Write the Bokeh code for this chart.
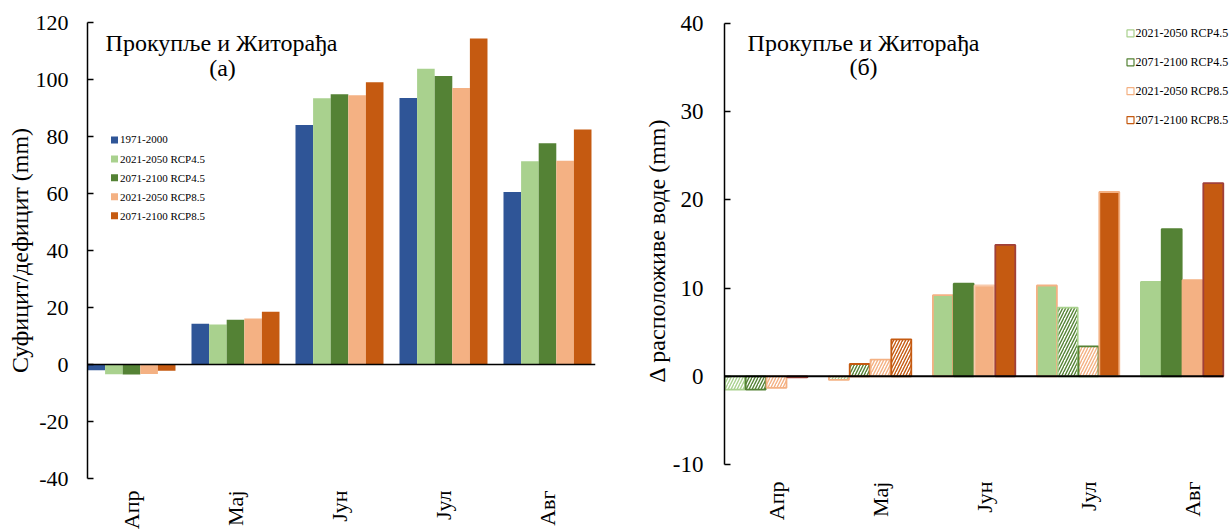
from math import pi
from bokeh.plotting import figure
from bokeh.models import Label, FixedTicker, Span, ColumnDataSource
from bokeh.layouts import row
from bokeh.embed import file_html
from bokeh.resources import INLINE
from bokeh.core.properties import value

# ---------------- data ----------------
months = ["Апр", "Мај", "Јун", "Јул", "Авг"]
series_a = ["1971-2000", "2021-2050 RCP4.5", "2071-2100 RCP4.5",
            "2021-2050 RCP8.5", "2071-2100 RCP8.5"]
base_1971_2000 = [-2.0, 14.3, 84.0, 93.5, 60.5]
rcp45_2021_2050 = [-3.4, 14.0, 93.4, 103.8, 71.3]
rcp45_2071_2100 = [-3.5, 15.7, 94.8, 101.2, 77.6]
rcp85_2021_2050 = [-3.3, 16.1, 94.5, 97.0, 71.5]
rcp85_2071_2100 = [-2.2, 18.5, 99.0, 114.4, 82.5]
values_a = [base_1971_2000, rcp45_2021_2050, rcp45_2071_2100,
            rcp85_2021_2050, rcp85_2071_2100]

series_b = series_a[1:]
d_rcp45_2021_2050 = [-1.5, -0.4, 9.2, 10.3, 10.7]
d_rcp45_2071_2100 = [-1.5, 1.4, 10.5, 7.8, 16.7]
d_rcp85_2021_2050 = [-1.3, 1.9, 10.3, 3.4, 10.9]
d_rcp85_2071_2100 = [-0.1, 4.2, 14.9, 20.9, 21.9]
values_b = [d_rcp45_2021_2050, d_rcp45_2071_2100, d_rcp85_2021_2050, d_rcp85_2071_2100]
# solid = significant change, hatched = not significant
sig_rcp45_2021_2050 = [False, False, True, True, True]
sig_rcp45_2071_2100 = [False, False, True, False, True]
sig_rcp85_2021_2050 = [False, False, True, False, True]
sig_rcp85_2071_2100 = [False, False, True, True, True]
sig_b = [sig_rcp45_2021_2050, sig_rcp45_2071_2100, sig_rcp85_2021_2050, sig_rcp85_2071_2100]

y_ticks_a = [-40, -20, 0, 20, 40, 60, 80, 100, 120]
y_ticks_b = [-10, 0, 10, 20, 30, 40]

# ---------------- styles ----------------
BLUE, LG, DG, PEACH, ORANGE = "#2F5597", "#A9D18E", "#548235", "#F4B183", "#C55A11"
DARKRED = "#A0403A"
colors_a = [BLUE, LG, DG, PEACH, ORANGE]
colors_b = [LG, DG, PEACH, ORANGE]
outline_b = [
    [LG, PEACH, PEACH, PEACH, LG],
    [DG, ORANGE, DG, LG, DG],
    [PEACH, PEACH, "#F8CBAD", DG, PEACH],
    [DARKRED, ORANGE, DARKRED, PEACH, DARKRED],
]
FONT = "Liberation Serif"

FIG_H = 532
FRAME_TOP, FRAME_BOTTOM = 22, 480   # shared frame (page pixels)


def style_xaxis(ax, standoff):
    ax.ticker = FixedTicker(ticks=list(range(len(months))))
    ax.major_label_overrides = {i: m for i, m in enumerate(months)}
    ax.major_label_orientation = pi / 2
    ax.major_label_standoff = standoff
    ax.major_label_text_font = FONT
    ax.major_label_text_font_size = "22px"
    ax.major_label_text_color = "black"
    ax.axis_line_color = None
    ax.major_tick_line_color = None
    ax.minor_tick_line_color = None
    ax.major_tick_in = 0
    ax.major_tick_out = 0
    ax.minor_tick_in = 0
    ax.minor_tick_out = 0


def style_yaxis(ax, ticks, label, tick_size, standoff, label_standoff):
    ax.ticker = FixedTicker(ticks=ticks)
    ax.major_label_overrides = {t: str(t) for t in ticks}   # plain hyphen minus
    ax.axis_label = label
    ax.axis_label_text_font = FONT
    ax.axis_label_text_font_size = "24px"
    ax.axis_label_text_font_style = "normal"
    ax.axis_label_standoff = label_standoff
    ax.axis_label_text_color = "black"
    ax.major_label_text_font = FONT
    ax.major_label_text_font_size = tick_size
    ax.major_label_standoff = standoff
    ax.major_label_text_color = "black"
    ax.major_tick_in = 6
    ax.major_tick_out = 0
    ax.minor_tick_in = 0
    ax.minor_tick_out = 0
    ax.axis_line_width = 1.5
    ax.major_tick_line_width = 1.5
    ax.axis_line_color = "black"
    ax.major_tick_line_color = "black"


# ---------------- chart (а) ----------------
fa_w = 620
a_left, a_right_px = 87, 595
a_x0 = -0.423
a_x1 = a_x0 + (a_right_px - a_left) / 104.0
pa = figure(width=fa_w, height=FIG_H, output_backend="svg", toolbar_location=None,
            x_range=(a_x0, a_x1), y_range=(-40, 120),
            min_border_left=a_left, min_border_top=FRAME_TOP,
            min_border_right=fa_w - a_right_px,
            min_border_bottom=FIG_H - FRAME_BOTTOM)
pa.outline_line_color = None
pa.grid.visible = False
pa.background_fill_color = "white"


def a_px_x(px):
    return a_x0 + (px - a_left) / 104.0


def a_px_y(py):
    return 120 - (py - FRAME_TOP) * 160.0 / (FRAME_BOTTOM - FRAME_TOP)


wa = 17.6 / 104.0
for j, (name, vals) in enumerate(zip(series_a, values_a)):
    src = ColumnDataSource(dict(x=[i + (j - 2) * wa for i in range(len(months))],
                                top=vals))
    pa.vbar(x="x", top="top", bottom=0, width=wa, source=src,
            fill_color=colors_a[j], line_color=None)

pa.add_layout(Span(location=0, dimension="width", line_color="black", line_width=1.5))

style_yaxis(pa.yaxis[0], y_ticks_a, "Суфицит/дефицит (mm)", "22px", 19, 0)
style_xaxis(pa.xaxis[0], 12)

pa.add_layout(Label(x=a_px_x(221), y=a_px_y(43), text="Прокупље и Житорађа",
                    text_align="center", text_baseline="alphabetic",
                    text_font=FONT, text_font_size="24px", text_color="black"))
pa.add_layout(Label(x=a_px_x(222), y=a_px_y(68), text="(а)",
                    text_align="center", text_baseline="alphabetic",
                    text_font=FONT, text_font_size="24px", text_color="black"))

# legend (а)
leg_y = [a_px_y(140 + 19 * k) for k in range(len(series_a))]
pa.scatter(x=[a_px_x(114)] * len(series_a), y=leg_y, marker="square", size=7,
           fill_color=colors_a, line_color=None)
pa.text(x=[a_px_x(119.5)] * len(series_a), y=leg_y, text=series_a,
        text_font=value(FONT), text_font_size=value("11px"),
        text_baseline="middle", text_align="left", text_color="black")

# ---------------- chart (б) ----------------
fb_w = 1231 - fa_w
b_left_px = 724            # page x of the axis
b_left = b_left_px - fa_w  # border inside the figure
b_x0 = -0.5
b_x1 = b_x0 + (fb_w - b_left) / 104.0
# axis spans 40 at y=23 and -10 at y=466 (page px)
b_ppu = (466 - 23) / 50.0
b_y1 = 40 + (23 - FRAME_TOP) / b_ppu
b_y0 = -10 - (FRAME_BOTTOM - 466) / b_ppu
pb = figure(width=fb_w, height=FIG_H, output_backend="svg", toolbar_location=None,
            x_range=(b_x0, b_x1), y_range=(b_y0, b_y1),
            min_border_left=b_left, min_border_top=FRAME_TOP, min_border_right=0,
            min_border_bottom=FIG_H - FRAME_BOTTOM)
pb.outline_line_color = None
pb.grid.visible = False
pb.background_fill_color = "white"


def b_px_x(px):
    return b_x0 + (px - b_left_px) / 104.0


def b_px_y(py):
    return b_y1 - (py - FRAME_TOP) / b_ppu


wb = 0.2
for j, (name, vals) in enumerate(zip(series_b, values_b)):
    sig = sig_b[j]
    src = ColumnDataSource(dict(
        x=[i + (j - 2) * wb for i in range(len(months))],
        top=vals,
        fill=[colors_b[j] if s else "white" for s in sig],
        hatch=[" " if s else "/" for s in sig],
        line=outline_b[j],
    ))
    pb.vbar(x="x", top="top", bottom=0, width=wb - 0.008, source=src,
            fill_color="fill", line_color="line", line_width=1.8,
            hatch_pattern="hatch", hatch_color=colors_b[j], hatch_scale=6,
            hatch_weight=1.4)

# zero line ends with the last bar
pb.segment(x0=[b_x0], y0=[0], x1=[b_px_x(1223)], y1=[0], line_color="black", line_width=2)

yb = pb.yaxis[0]
style_yaxis(yb, y_ticks_b, "Δ расположиве воде (mm)", "23px", 21, 0)
yb.bounds = (y_ticks_b[0], y_ticks_b[-1])
style_xaxis(pb.xaxis[0], 3)

pb.add_layout(Label(x=b_px_x(863), y=b_px_y(43), text="Прокупље и Житорађа",
                    text_align="center", text_baseline="alphabetic",
                    text_font=FONT, text_font_size="24px", text_color="black"))
pb.add_layout(Label(x=b_px_x(863), y=b_px_y(67), text="(б)",
                    text_align="center", text_baseline="alphabetic",
                    text_font=FONT, text_font_size="24px", text_color="black"))

# legend (б)
legb_y = [b_px_y(33 + 29 * k) for k in range(len(series_b))]
pb.scatter(x=[b_px_x(1130)] * len(series_b), y=legb_y, marker="square", size=7,
           fill_color="white", line_color=colors_b, line_width=1.2)
pb.text(x=[b_px_x(1135)] * len(series_b), y=legb_y, text=series_b,
        text_font=value(FONT), text_font_size=value("12px"),
        text_baseline="middle", text_align="left", text_color="black")

layout = row(pa, pb)
open("out.html", "w").write(file_html(layout, INLINE))
